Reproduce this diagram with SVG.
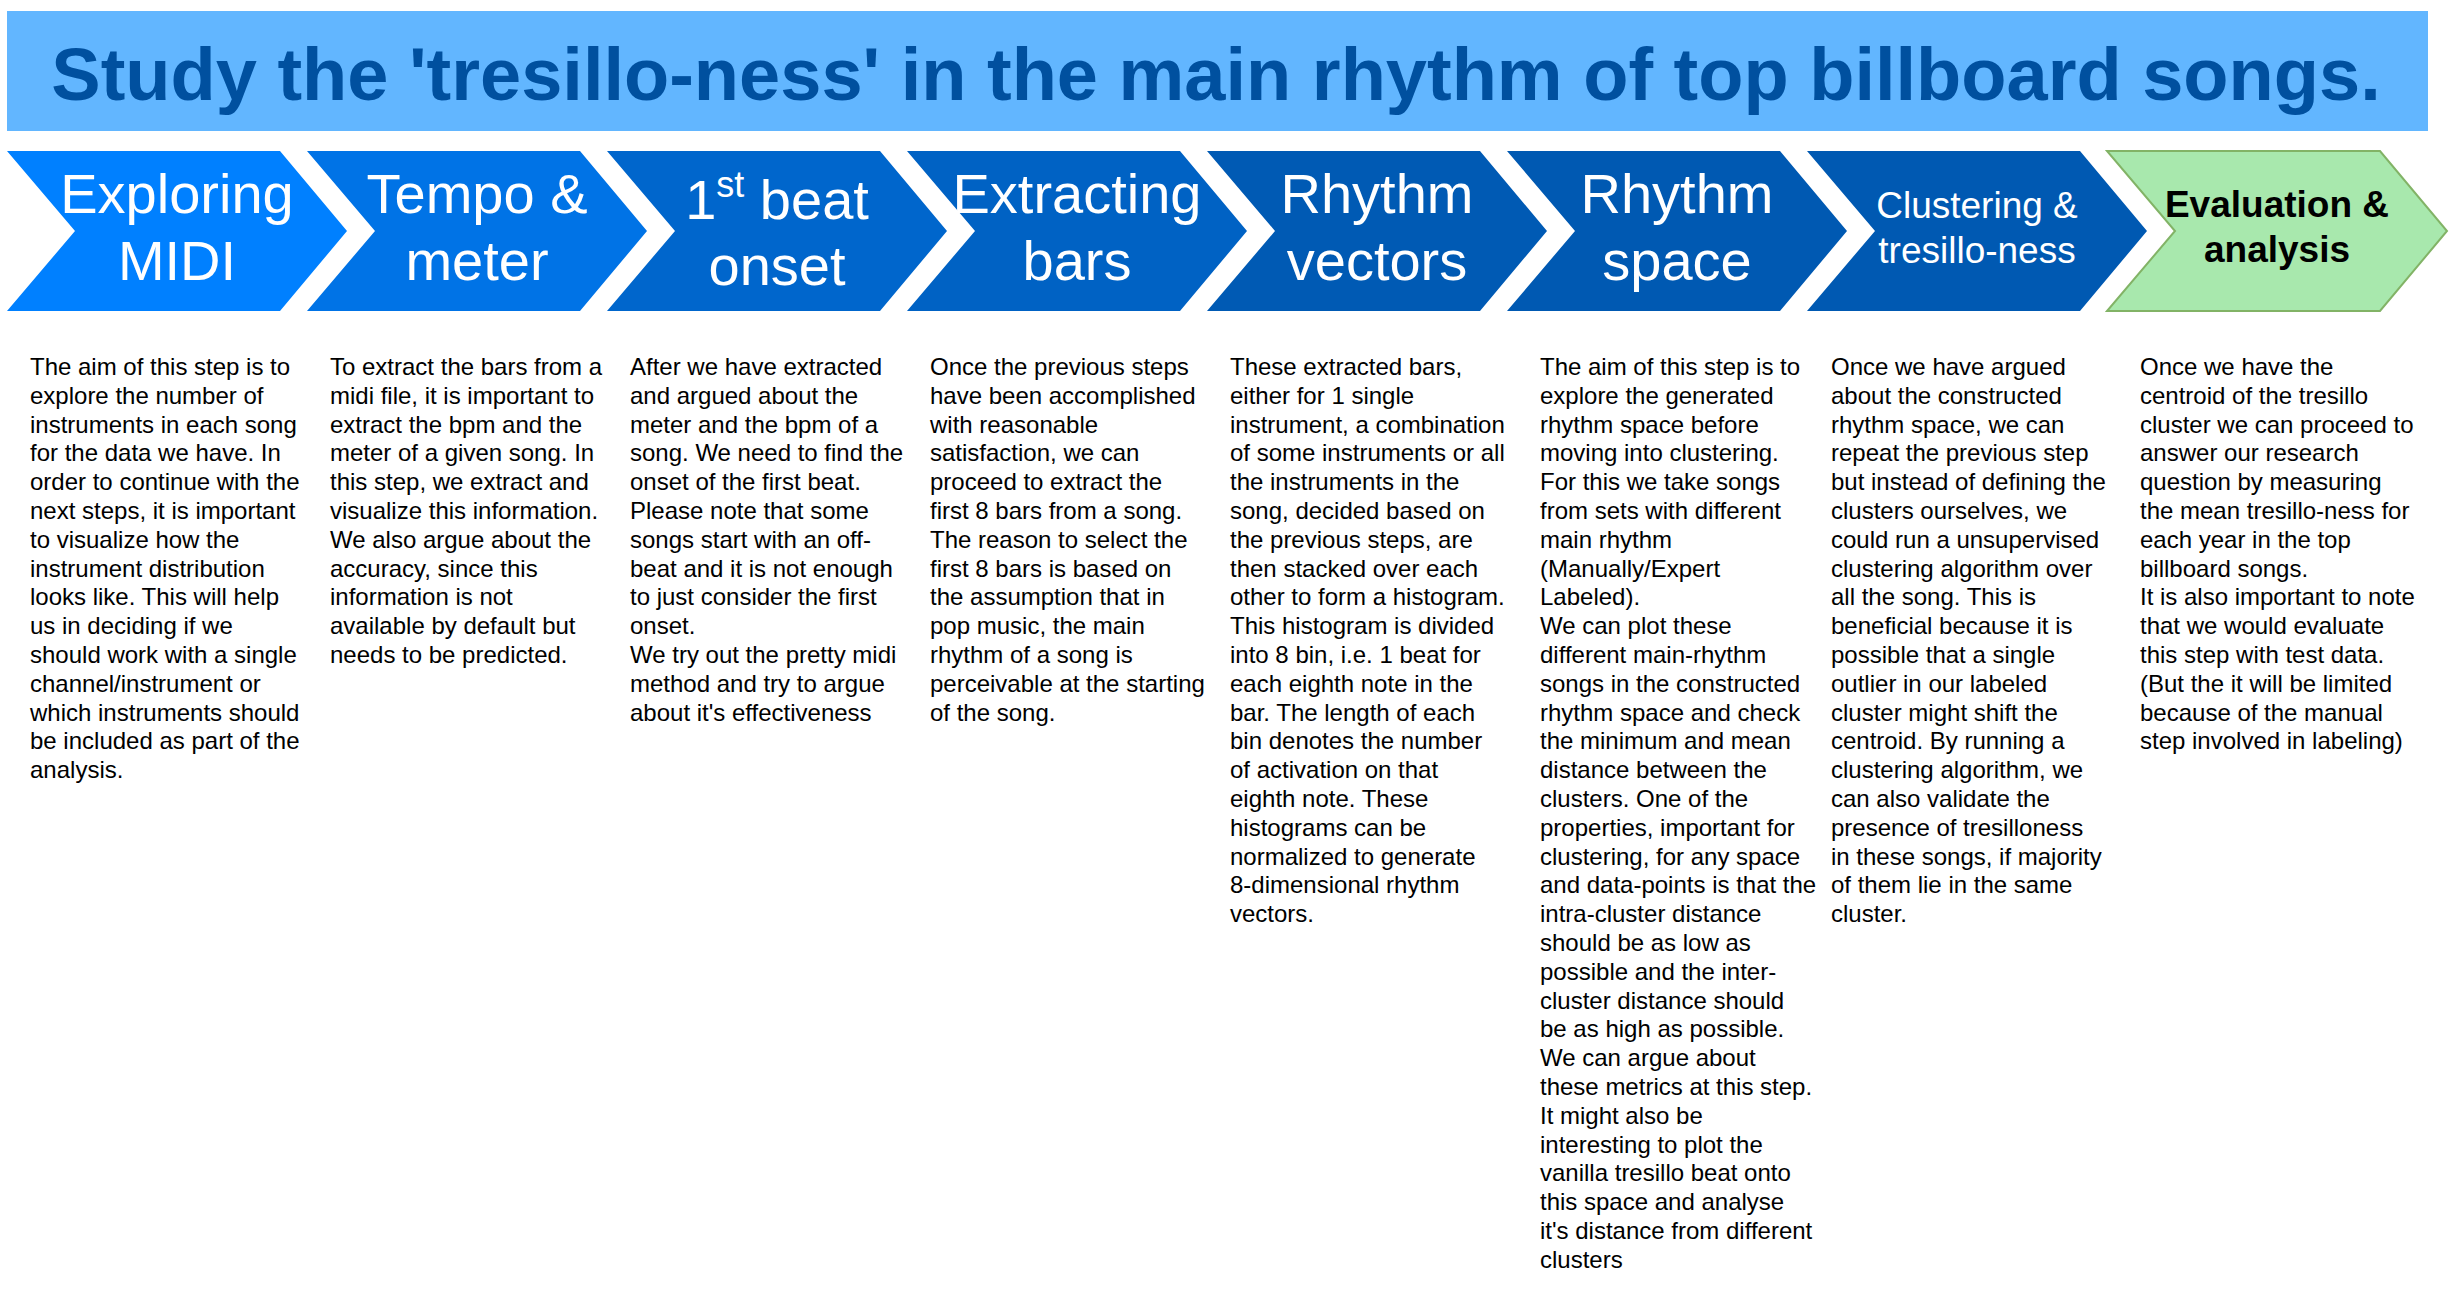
<svg xmlns="http://www.w3.org/2000/svg" width="2462" height="1306" viewBox="0 0 2462 1306">
<style>
.title{font-family:"Liberation Sans",Arial,sans-serif;font-weight:bold;font-size:74px;fill:#00509F}
.lbl{font-family:"Liberation Sans",Arial,sans-serif;font-size:56px;fill:#ffffff;text-anchor:middle}
.lbls{font-family:"Liberation Sans",Arial,sans-serif;font-size:37px;fill:#ffffff;text-anchor:middle}
.lblb{font-family:"Liberation Sans",Arial,sans-serif;font-size:37px;font-weight:bold;fill:#000000;text-anchor:middle}
.body{font-family:"Liberation Sans",Arial,sans-serif;font-size:24px;fill:#000000}
</style>
<defs>
<polygon id="chev" points="0,151 273,151 340,231 273,311 0,311 68,231"/>
</defs>
<rect width="2462" height="1306" fill="#ffffff"/>
<g id="title">
<rect x="7" y="11" width="2421" height="120" fill="#62B6FF"/>
<text class="title" x="1216" y="100" text-anchor="middle">Study the 'tresillo-ness' in the main rhythm of top billboard songs.</text>
</g>
<g id="step1">
<use href="#chev" x="7" fill="#0080FF"/>
<text class="lbl" x="177" y="213">Exploring</text>
<text class="lbl" x="177" y="280">MIDI</text>
</g>
<g id="step2">
<use href="#chev" x="307" fill="#0073E6"/>
<text class="lbl" x="477" y="213">Tempo &amp;</text>
<text class="lbl" x="477" y="280">meter</text>
</g>
<g id="step3">
<use href="#chev" x="607" fill="#0066CC"/>
<text class="lbl" x="777" y="219">1<tspan font-size="36px" dy="-22">st</tspan><tspan dy="22"> beat</tspan></text>
<text class="lbl" x="777" y="285">onset</text>
</g>
<g id="step4">
<use href="#chev" x="907" fill="#0062C4"/>
<text class="lbl" x="1077" y="213">Extracting</text>
<text class="lbl" x="1077" y="280">bars</text>
</g>
<g id="step5">
<use href="#chev" x="1207" fill="#005AB4"/>
<text class="lbl" x="1377" y="213">Rhythm</text>
<text class="lbl" x="1377" y="280">vectors</text>
</g>
<g id="step6">
<use href="#chev" x="1507" fill="#0059B2"/>
<text class="lbl" x="1677" y="213">Rhythm</text>
<text class="lbl" x="1677" y="280">space</text>
</g>
<g id="step7">
<use href="#chev" x="1807" fill="#0059B2"/>
<text class="lbls" x="1977" y="218">Clustering &amp;</text>
<text class="lbls" x="1977" y="263">tresillo-ness</text>
</g>
<g id="step8">
<use href="#chev" x="2107" fill="#A8E8AD" stroke="#82B366" stroke-width="2"/>
<text class="lblb" x="2277" y="217">Evaluation &amp;</text>
<text class="lblb" x="2277" y="262">analysis</text>
</g>
<g id="connectors"/>
<g id="desc1">
<text class="body" x="30" y="375">
<tspan x="30" dy="0">The aim of this step is to</tspan>
<tspan x="30" dy="28.8">explore the number of</tspan>
<tspan x="30" dy="28.8">instruments in each song</tspan>
<tspan x="30" dy="28.8">for the data we have. In</tspan>
<tspan x="30" dy="28.8">order to continue with the</tspan>
<tspan x="30" dy="28.8">next steps, it is important</tspan>
<tspan x="30" dy="28.8">to visualize how the</tspan>
<tspan x="30" dy="28.8">instrument distribution</tspan>
<tspan x="30" dy="28.8">looks like. This will help</tspan>
<tspan x="30" dy="28.8">us in deciding if we</tspan>
<tspan x="30" dy="28.8">should work with a single</tspan>
<tspan x="30" dy="28.8">channel/instrument or</tspan>
<tspan x="30" dy="28.8">which instruments should</tspan>
<tspan x="30" dy="28.8">be included as part of the</tspan>
<tspan x="30" dy="28.8">analysis.</tspan>
</text>
</g>
<g id="desc2">
<text class="body" x="330" y="375">
<tspan x="330" dy="0">To extract the bars from a</tspan>
<tspan x="330" dy="28.8">midi file, it is important to</tspan>
<tspan x="330" dy="28.8">extract the bpm and the</tspan>
<tspan x="330" dy="28.8">meter of a given song. In</tspan>
<tspan x="330" dy="28.8">this step, we extract and</tspan>
<tspan x="330" dy="28.8">visualize this information.</tspan>
<tspan x="330" dy="28.8">We also argue about the</tspan>
<tspan x="330" dy="28.8">accuracy, since this</tspan>
<tspan x="330" dy="28.8">information is not</tspan>
<tspan x="330" dy="28.8">available by default but</tspan>
<tspan x="330" dy="28.8">needs to be predicted.</tspan>
</text>
</g>
<g id="desc3">
<text class="body" x="630" y="375">
<tspan x="630" dy="0">After we have extracted</tspan>
<tspan x="630" dy="28.8">and argued about the</tspan>
<tspan x="630" dy="28.8">meter and the bpm of a</tspan>
<tspan x="630" dy="28.8">song. We need to find the</tspan>
<tspan x="630" dy="28.8">onset of the first beat.</tspan>
<tspan x="630" dy="28.8">Please note that some</tspan>
<tspan x="630" dy="28.8">songs start with an off-</tspan>
<tspan x="630" dy="28.8">beat and it is not enough</tspan>
<tspan x="630" dy="28.8">to just consider the first</tspan>
<tspan x="630" dy="28.8">onset.</tspan>
<tspan x="630" dy="28.8">We try out the pretty midi</tspan>
<tspan x="630" dy="28.8">method and try to argue</tspan>
<tspan x="630" dy="28.8">about it's effectiveness</tspan>
</text>
</g>
<g id="desc4">
<text class="body" x="930" y="375">
<tspan x="930" dy="0">Once the previous steps</tspan>
<tspan x="930" dy="28.8">have been accomplished</tspan>
<tspan x="930" dy="28.8">with reasonable</tspan>
<tspan x="930" dy="28.8">satisfaction, we can</tspan>
<tspan x="930" dy="28.8">proceed to extract the</tspan>
<tspan x="930" dy="28.8">first 8 bars from a song.</tspan>
<tspan x="930" dy="28.8">The reason to select the</tspan>
<tspan x="930" dy="28.8">first 8 bars is based on</tspan>
<tspan x="930" dy="28.8">the assumption that in</tspan>
<tspan x="930" dy="28.8">pop music, the main</tspan>
<tspan x="930" dy="28.8">rhythm of a song is</tspan>
<tspan x="930" dy="28.8">perceivable at the starting</tspan>
<tspan x="930" dy="28.8">of the song.</tspan>
</text>
</g>
<g id="desc5">
<text class="body" x="1230" y="375">
<tspan x="1230" dy="0">These extracted bars,</tspan>
<tspan x="1230" dy="28.8">either for 1 single</tspan>
<tspan x="1230" dy="28.8">instrument, a combination</tspan>
<tspan x="1230" dy="28.8">of some instruments or all</tspan>
<tspan x="1230" dy="28.8">the instruments in the</tspan>
<tspan x="1230" dy="28.8">song, decided based on</tspan>
<tspan x="1230" dy="28.8">the previous steps, are</tspan>
<tspan x="1230" dy="28.8">then stacked over each</tspan>
<tspan x="1230" dy="28.8">other to form a histogram.</tspan>
<tspan x="1230" dy="28.8">This histogram is divided</tspan>
<tspan x="1230" dy="28.8">into 8 bin, i.e. 1 beat for</tspan>
<tspan x="1230" dy="28.8">each eighth note in the</tspan>
<tspan x="1230" dy="28.8">bar. The length of each</tspan>
<tspan x="1230" dy="28.8">bin denotes the number</tspan>
<tspan x="1230" dy="28.8">of activation on that</tspan>
<tspan x="1230" dy="28.8">eighth note. These</tspan>
<tspan x="1230" dy="28.8">histograms can be</tspan>
<tspan x="1230" dy="28.8">normalized to generate</tspan>
<tspan x="1230" dy="28.8">8-dimensional rhythm</tspan>
<tspan x="1230" dy="28.8">vectors.</tspan>
</text>
</g>
<g id="desc6">
<text class="body" x="1540" y="375">
<tspan x="1540" dy="0">The aim of this step is to</tspan>
<tspan x="1540" dy="28.8">explore the generated</tspan>
<tspan x="1540" dy="28.8">rhythm space before</tspan>
<tspan x="1540" dy="28.8">moving into clustering.</tspan>
<tspan x="1540" dy="28.8">For this we take songs</tspan>
<tspan x="1540" dy="28.8">from sets with different</tspan>
<tspan x="1540" dy="28.8">main rhythm</tspan>
<tspan x="1540" dy="28.8">(Manually/Expert</tspan>
<tspan x="1540" dy="28.8">Labeled).</tspan>
<tspan x="1540" dy="28.8">We can plot these</tspan>
<tspan x="1540" dy="28.8">different main-rhythm</tspan>
<tspan x="1540" dy="28.8">songs in the constructed</tspan>
<tspan x="1540" dy="28.8">rhythm space and check</tspan>
<tspan x="1540" dy="28.8">the minimum and mean</tspan>
<tspan x="1540" dy="28.8">distance between the</tspan>
<tspan x="1540" dy="28.8">clusters. One of the</tspan>
<tspan x="1540" dy="28.8">properties, important for</tspan>
<tspan x="1540" dy="28.8">clustering, for any space</tspan>
<tspan x="1540" dy="28.8">and data-points is that the</tspan>
<tspan x="1540" dy="28.8">intra-cluster distance</tspan>
<tspan x="1540" dy="28.8">should be as low as</tspan>
<tspan x="1540" dy="28.8">possible and the inter-</tspan>
<tspan x="1540" dy="28.8">cluster distance should</tspan>
<tspan x="1540" dy="28.8">be as high as possible.</tspan>
<tspan x="1540" dy="28.8">We can argue about</tspan>
<tspan x="1540" dy="28.8">these metrics at this step.</tspan>
<tspan x="1540" dy="28.8">It might also be</tspan>
<tspan x="1540" dy="28.8">interesting to plot the</tspan>
<tspan x="1540" dy="28.8">vanilla tresillo beat onto</tspan>
<tspan x="1540" dy="28.8">this space and analyse</tspan>
<tspan x="1540" dy="28.8">it's distance from different</tspan>
<tspan x="1540" dy="28.8">clusters</tspan>
</text>
</g>
<g id="desc7">
<text class="body" x="1831" y="375">
<tspan x="1831" dy="0">Once we have argued</tspan>
<tspan x="1831" dy="28.8">about the constructed</tspan>
<tspan x="1831" dy="28.8">rhythm space, we can</tspan>
<tspan x="1831" dy="28.8">repeat the previous step</tspan>
<tspan x="1831" dy="28.8">but instead of defining the</tspan>
<tspan x="1831" dy="28.8">clusters ourselves, we</tspan>
<tspan x="1831" dy="28.8">could run a unsupervised</tspan>
<tspan x="1831" dy="28.8">clustering algorithm over</tspan>
<tspan x="1831" dy="28.8">all the song. This is</tspan>
<tspan x="1831" dy="28.8">beneficial because it is</tspan>
<tspan x="1831" dy="28.8">possible that a single</tspan>
<tspan x="1831" dy="28.8">outlier in our labeled</tspan>
<tspan x="1831" dy="28.8">cluster might shift the</tspan>
<tspan x="1831" dy="28.8">centroid. By running a</tspan>
<tspan x="1831" dy="28.8">clustering algorithm, we</tspan>
<tspan x="1831" dy="28.8">can also validate the</tspan>
<tspan x="1831" dy="28.8">presence of tresilloness</tspan>
<tspan x="1831" dy="28.8">in these songs, if majority</tspan>
<tspan x="1831" dy="28.8">of them lie in the same</tspan>
<tspan x="1831" dy="28.8">cluster.</tspan>
</text>
</g>
<g id="desc8">
<text class="body" x="2140" y="375">
<tspan x="2140" dy="0">Once we have the</tspan>
<tspan x="2140" dy="28.8">centroid of the tresillo</tspan>
<tspan x="2140" dy="28.8">cluster we can proceed to</tspan>
<tspan x="2140" dy="28.8">answer our research</tspan>
<tspan x="2140" dy="28.8">question by measuring</tspan>
<tspan x="2140" dy="28.8">the mean tresillo-ness for</tspan>
<tspan x="2140" dy="28.8">each year in the top</tspan>
<tspan x="2140" dy="28.8">billboard songs.</tspan>
<tspan x="2140" dy="28.8">It is also important to note</tspan>
<tspan x="2140" dy="28.8">that we would evaluate</tspan>
<tspan x="2140" dy="28.8">this step with test data.</tspan>
<tspan x="2140" dy="28.8">(But the it will be limited</tspan>
<tspan x="2140" dy="28.8">because of the manual</tspan>
<tspan x="2140" dy="28.8">step involved in labeling)</tspan>
</text>
</g>
</svg>
